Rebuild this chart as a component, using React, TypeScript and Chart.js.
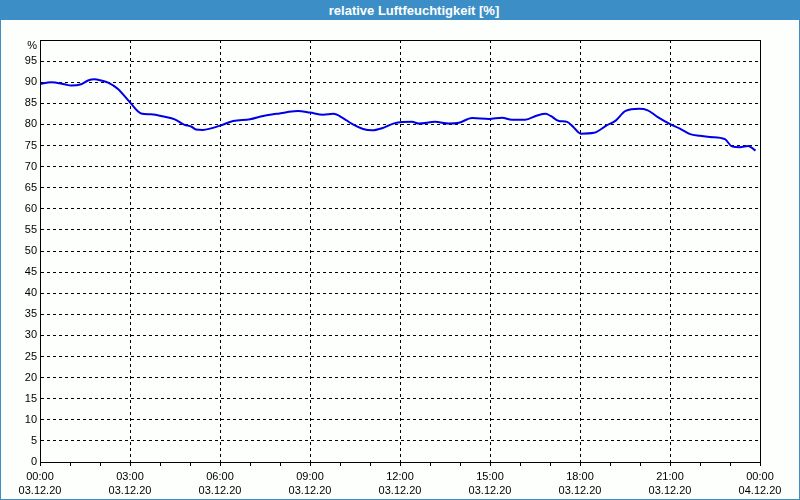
import React, { useEffect, useRef } from "react";
import { Chart, registerables } from "chart.js";

Chart.register(...registerables);

const TITLE = "relative Luftfeuchtigkeit [%]";

// hours since 03.12.20 00:00
const hours = [
  0, 0.37, 0.82, 1.04, 1.37, 1.6, 1.82, 2.04, 2.27, 2.6, 2.99, 3.37, 3.7, 4.16, 4.49, 4.82,
  5.04, 5.2, 5.43, 5.67, 6.0, 6.44, 7.0, 7.44, 7.89, 8.22, 8.6, 9.0, 9.44, 9.78, 10.1, 10.4,
  10.77, 11.07, 11.4, 11.83, 12.4, 12.63, 13.17, 13.63, 13.97, 14.4, 14.97, 15.4, 15.73, 16.17,
  16.57, 16.86, 17.02, 17.3, 17.57, 17.8, 18.02, 18.47, 18.9, 19.19, 19.52, 19.97, 20.24, 20.58,
  21.02, 21.33, 21.67, 22.0, 22.33, 22.83, 23.06, 23.33, 23.61, 23.85,
];

const humidity = [
  89.6, 90.0, 89.5, 89.2, 89.5, 90.4, 90.7, 90.4, 89.9, 88.4, 85.3, 82.6, 82.4, 81.8, 81.2, 79.9,
  79.5, 78.8, 78.7, 79.0, 79.7, 80.8, 81.2, 82.0, 82.5, 82.9, 83.2, 82.8, 82.3, 82.5, 81.5, 80.1,
  78.9, 78.6, 79.1, 80.3, 80.6, 80.2, 80.6, 80.2, 80.4, 81.5, 81.3, 81.6, 81.1, 81.1,
  82.1, 82.5, 82.0, 80.8, 80.6, 79.2, 77.8, 78.0, 79.8, 80.9, 83.2, 83.7, 83.4, 81.8,
  80.0, 79.0, 77.7, 77.3, 77.0, 76.5, 74.8, 74.6, 74.9, 73.8,
];

const timeLabels = ["00:00", "03:00", "06:00", "09:00", "12:00", "15:00", "18:00", "21:00", "00:00"];
const dateLabels = ["03.12.20", "03.12.20", "03.12.20", "03.12.20", "03.12.20", "03.12.20", "03.12.20", "03.12.20", "04.12.20"];
const yUnitLabel = "%";

const FONT_FAMILY = "'Liberation Sans', Arial, sans-serif";

const framePlugin = {
  id: "plotFrame",
  afterDraw(chart: any) {
    const { ctx, chartArea } = chart;
    const l = Math.round(chartArea.left);
    const t = Math.round(chartArea.top);
    const r = Math.round(chartArea.right);
    const b = Math.round(chartArea.bottom);
    ctx.save();
    ctx.strokeStyle = "#000";
    ctx.lineWidth = 1;
    ctx.setLineDash([]);
    ctx.strokeRect(l + 0.5, t + 0.5, r - l, b - t);
    ctx.fillStyle = "#000";
    ctx.font = `11px ${FONT_FAMILY}`;
    ctx.textAlign = "right";
    ctx.textBaseline = "middle";
    ctx.fillText(yUnitLabel, l - 3, t + 6);
    ctx.restore();
  },
};

export default function App() {
  const canvasRef = useRef<HTMLCanvasElement | null>(null);

  useEffect(() => {
    if (!canvasRef.current) return;
    const tickFont = { family: FONT_FAMILY, size: 11, lineHeight: 1.36 };
    const chart = new Chart(canvasRef.current, {
      type: "line",
      data: {
        datasets: [
          {
            data: hours.map((h, i) => ({ x: h, y: humidity[i] })),
            borderColor: "#0000e8",
            borderWidth: 2,
            pointRadius: 0,
            fill: false,
            cubicInterpolationMode: "monotone",
          },
        ],
      },
      options: {
        animation: false,
        responsive: false,
        layout: { padding: { left: 0, right: 39, top: 20, bottom: 0 } },
        plugins: { legend: { display: false }, tooltip: { enabled: false }, title: { display: false } },
        scales: {
          x: {
            type: "linear",
            min: 0,
            max: 24,
            afterFit: (s: any) => {
              s.height = 37;
            },
            ticks: {
              stepSize: 1,
              autoSkip: false,
              maxRotation: 0,
              minRotation: 0,
              padding: 3,
              color: "#000",
              font: tickFont,
              callback: (v: any) => {
                const n = Number(v);
                if (n % 3 !== 0) return "";
                return [timeLabels[n / 3], dateLabels[n / 3]];
              },
            },
            grid: {
              color: (ctx: any) => (ctx.tick && ctx.tick.value % 3 === 0 ? "#000" : "rgba(0,0,0,0)"),
              tickColor: "#000",
              tickLength: 4,
              tickBorderDash: [],
              lineWidth: 1,
            },
            border: { color: "#000", width: 1, dash: [3, 3] },
          },
          y: {
            type: "linear",
            min: 0,
            max: 100,
            afterFit: (s: any) => {
              s.width = 39;
            },
            ticks: {
              stepSize: 5,
              padding: 3,
              color: "#000",
              font: tickFont,
              callback: (v: any) => (Number(v) === 100 ? "" : String(v)),
            },
            grid: { color: "#000", drawTicks: false, lineWidth: 1 },
            border: { color: "#000", width: 1, dash: [3, 3] },
          },
        },
      },
      plugins: [framePlugin],
    } as any);
    return () => chart.destroy();
  }, []);

  return (
    <div
      style={{
        position: "fixed",
        left: 0,
        top: 0,
        width: 800,
        height: 500,
        boxSizing: "border-box",
        border: "1px solid #3c8fc6",
        background: "#fdfffd",
        overflow: "hidden",
      }}
    >
      <div
        style={{
          height: 19,
          lineHeight: "19px",
          background: "#3c8fc6",
          color: "#fff",
          fontFamily: FONT_FAMILY,
          fontWeight: "bold",
          fontSize: 13,
          textAlign: "center",
          paddingLeft: 28,
          boxSizing: "border-box",
        }}
      >
        {TITLE}
      </div>
      <canvas ref={canvasRef} width={798} height={479} style={{ display: "block" }} />
    </div>
  );
}
